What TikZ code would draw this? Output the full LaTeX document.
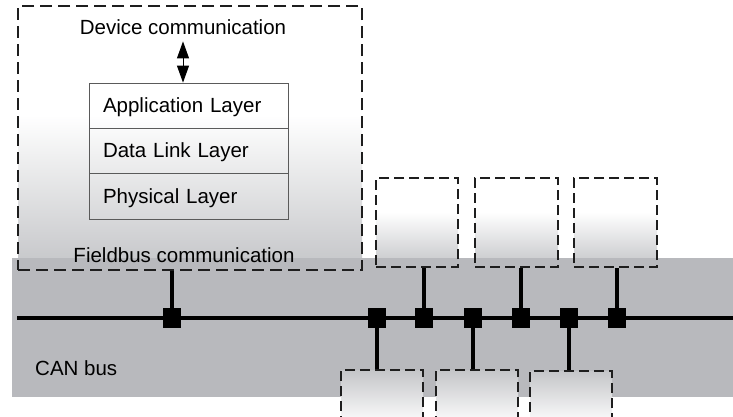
\documentclass[tikz,border=0pt]{standalone}
\usepackage{fontspec}
\setmainfont{Liberation Sans}
\usetikzlibrary{arrows.meta,calc}
\definecolor{bandgray}{RGB}{184,185,189}
\definecolor{shadegray}{RGB}{196,197,200}
\definecolor{dashcol}{RGB}{30,30,30}
\definecolor{layerline}{RGB}{90,90,90}
\begin{document}
\begin{tikzpicture}[x=1pt,y=-1pt,
  lbl/.style={font=\fontsize{20.5}{24}\selectfont, inner sep=0pt},
  mainbox/.style={draw=dashcol, line width=1.3pt, dash pattern=on 12pt off 6pt, inner sep=0pt},
  devbox/.style={draw=dashcol, line width=1.3pt, dash pattern=on 10pt off 5pt, inner sep=0pt, minimum width=82pt},
  layerbox/.style={draw=layerline, line width=0.8pt, font=\fontsize{20.5}{24}\selectfont,
    minimum width=199pt, minimum height=45.33pt, text width=171pt, align=left,
    inner xsep=14pt, inner ysep=0pt, text height=14.7pt, text depth=1pt},
  busline/.style={line width=4pt},
  stub/.style={line width=4.5pt},
  sq/.style={fill=black, inner sep=0pt, minimum width=17pt, minimum height=19pt},
  twoway/.style={line width=0.9pt, {Triangle[width=12pt,length=17pt]}-{Triangle[width=12pt,length=17pt]}}
]
\clip (0,0) rectangle (733,416);
% fills
\fill[white] (0,0) rectangle (733,416);
\fill[white] (18,6) rectangle (362,115);
\shade[top color=white, bottom color=shadegray] (18,115) rectangle (362,270);
\foreach \xa/\xb in {376/458, 475/558, 574/657}{
  \fill[white] (\xa,178) rectangle (\xb,212);
  \shade[top color=white, bottom color=shadegray] (\xa,212) rectangle (\xb,267);
}
\fill[bandgray] (12,258) rectangle (733,397);
\foreach \xa/\xb/\ya in {341/423/370, 436/518/370, 530/612/371}{
  \shade[top color=shadegray, bottom color=white] (\xa,\ya) rectangle (\xb,425);
}
% boxes
\node[mainbox, minimum width=344pt, minimum height=264pt] (main) at (190,138) {};
\node[devbox, minimum height=89pt] (u1) at (417,222.5) {};
\node[devbox, minimum height=89pt, minimum width=83pt] (u2) at (516.5,222.5) {};
\node[devbox, minimum height=89pt, minimum width=83pt] (u3) at (615.5,222.5) {};
\node[devbox, minimum height=90pt] (l1) at (382,415) {};
\node[devbox, minimum height=90pt] (l2) at (477,415) {};
\node[devbox, minimum height=90pt] (l3) at (571,416) {};
% layers
\node[layerbox] (app) at (188.5,105.67) {Application Layer};
\node[layerbox] (dll) at (188.5,151) {Data Link Layer};
\node[layerbox] (phy) at (188.5,196.33) {Physical Layer};
% texts
\node[lbl, anchor=base] (dev) at (183,34) {Device communication};
\node[lbl, anchor=base] (fb) at (184,262) {Fieldbus communication};
\node[lbl, anchor=base west] (can) at (35,375) {CAN bus};
\draw[twoway] ($(dev.south)+(0,7)$) -- (dev.south |- app.north);
% bus
\coordinate (busL) at (17,318);
\coordinate (busR) at (733,318);
\draw[busline] (busL) -- (busR);
\node[sq] (s0) at (172,318) {};
\node[sq] (s1) at (377,318) {};
\node[sq] (s2) at (424,318) {};
\node[sq] (s3) at (473,318) {};
\node[sq] (s4) at (521,318) {};
\node[sq] (s5) at (569,318) {};
\node[sq] (s6) at (617,318) {};
\draw[stub] (s0.center) -- (s0.center |- main.south);
\draw[stub] (s2.center) -- (s2.center |- u1.south);
\draw[stub] (s4.center) -- (s4.center |- u2.south);
\draw[stub] (s6.center) -- (s6.center |- u3.south);
\draw[stub] (s1.center) -- (s1.center |- l1.north);
\draw[stub] (s3.center) -- (s3.center |- l2.north);
\draw[stub] (s5.center) -- (s5.center |- l3.north);
\foreach \s in {s0,s1,s2,s3,s4,s5,s6}{\fill (\s.north west) rectangle (\s.south east);}
\end{tikzpicture}
\end{document}
